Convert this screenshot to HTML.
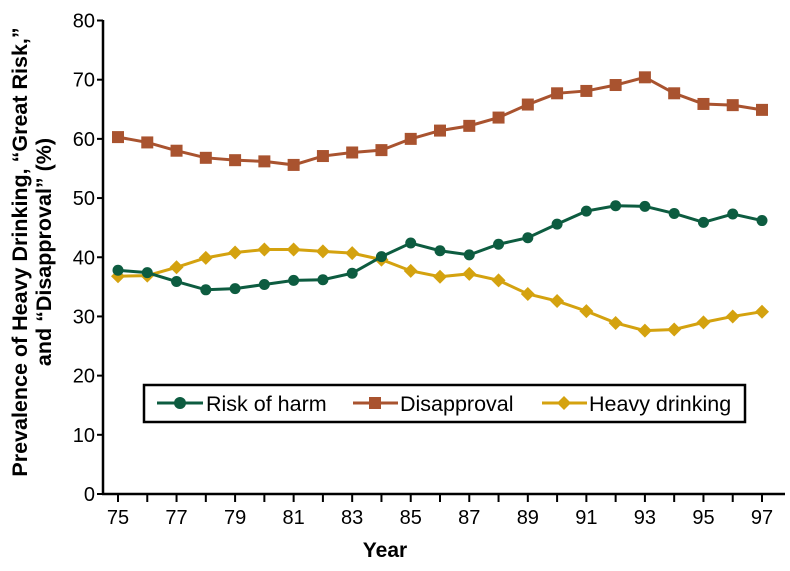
<!DOCTYPE html>
<html><head><meta charset="utf-8"><style>
body{margin:0;background:#fff;}
svg{display:block;font-family:"Liberation Sans",Arial,sans-serif;}
</style></head><body>
<svg id="chart" width="790" height="571">
<g id="axes"></g><g id="series"></g>
<text x="385" y="557" font-size="21" font-weight="bold" text-anchor="middle">Year</text>
<g transform="translate(0,252) rotate(-90)">
<text x="0" y="27" font-size="21.5" font-weight="bold" text-anchor="middle">Prevalence of Heavy Drinking, “Great Risk,”</text>
<text x="0" y="51" font-size="21.5" font-weight="bold" text-anchor="middle">and “Disapproval” (%)</text>
</g>
<g>
<rect x="144" y="385" width="601" height="37" fill="#fff" stroke="#000" stroke-width="2.5"/>
<g><line x1="157" y1="403" x2="203" y2="403" stroke="#0d5c40" stroke-width="3"/><circle cx="180" cy="403" r="6" fill="#0d5c40"/><text x="206" y="411" font-size="21.5">Risk of harm</text></g>
<g><line x1="353" y1="403" x2="398" y2="403" stroke="#a9532f" stroke-width="3"/><rect x="369" y="397" width="12" height="12" fill="#a9532f"/><text x="400" y="411" font-size="21.5">Disapproval</text></g>
<g><line x1="542" y1="403" x2="587" y2="403" stroke="#d4a20f" stroke-width="3"/><polygon points="564,396 571,403 564,410 557,403" fill="#d4a20f"/><text x="589" y="411" font-size="21.5">Heavy drinking</text></g>
</g>
</svg>
<script>
const years=[75,76,77,78,79,80,81,82,83,84,85,86,87,88,89,90,91,92,93,94,95,96,97];
const disapproval=[60.3,59.4,58.0,56.8,56.4,56.2,55.6,57.1,57.7,58.1,60.0,61.4,62.2,63.6,65.8,67.7,68.1,69.1,70.4,67.7,65.9,65.7,64.9];
const riskOfHarm=[37.8,37.4,35.9,34.5,34.7,35.4,36.1,36.2,37.3,40.1,42.4,41.1,40.4,42.2,43.3,45.6,47.8,48.7,48.6,47.4,45.9,47.3,46.2];
const heavyDrinking=[36.8,36.9,38.3,39.9,40.8,41.3,41.3,41.0,40.7,39.6,37.7,36.7,37.2,36.1,33.8,32.6,30.9,28.9,27.6,27.8,29.0,30.0,30.8];
const yTicks=[0,10,20,30,40,50,60,70,80];
const xLabels=[75,77,79,81,83,85,87,89,91,93,95,97];

const NS="http://www.w3.org/2000/svg";
const X=v=>118+(v-75)*(762-118)/22;
const Y=v=>494-v*(494-20.5)/80;
function mk(tag,attrs,parent){const e=document.createElementNS(NS,tag);for(const k in attrs)e.setAttribute(k,attrs[k]);parent.appendChild(e);return e;}
const axes=document.getElementById('axes'),series=document.getElementById('series');
const ya=mk('line',{x1:103,y1:20,x2:103,y2:495,stroke:'#000','stroke-width':2.5},axes);


const xa=mk('line',{x1:102,y1:494,x2:785,y2:494,stroke:'#000','stroke-width':2.5},axes);


yTicks.forEach(t=>{
 mk('line',{x1:97,y1:Y(t),x2:103,y2:Y(t),stroke:'#000','stroke-width':2},axes);
 const tx=mk('text',{x:95,y:Y(t)+7,'font-size':20,'text-anchor':'end'},axes);tx.textContent=t;
 
 
});
years.forEach(y=>{mk('line',{x1:X(y),y1:494,x2:X(y),y2:502,stroke:'#000','stroke-width':2},axes);});
xLabels.forEach(y=>{
 const tx=mk('text',{x:X(y),y:524,'font-size':20,'text-anchor':'middle'},axes);tx.textContent=y;
 
 
});
function draw(vals,color,shape,name){
 const g=mk('g',{},series);
 
 
 mk('polyline',{points:vals.map((v,i)=>X(years[i])+','+Y(v)).join(' '),fill:'none',stroke:color,'stroke-width':3},g);
 vals.forEach((v,i)=>{
  const cx=X(years[i]),cy=Y(v);let m;
  if(shape==='circle')m=mk('circle',{cx:cx,cy:cy,r:5.5,fill:color},g);
  else if(shape==='square')m=mk('rect',{x:cx-6,y:cy-6,width:12,height:12,fill:color},g);
  else m=mk('polygon',{points:`${cx},${cy-7} ${cx+7},${cy} ${cx},${cy+7} ${cx-7},${cy}`,fill:color},g);
  
  
 });
}
draw(disapproval,'#a9532f','square','disapproval-series');
draw(heavyDrinking,'#d4a20f','diamond','heavy-drinking-series');
draw(riskOfHarm,'#0d5c40','circle','risk-of-harm-series');
</script>
</body></html>
